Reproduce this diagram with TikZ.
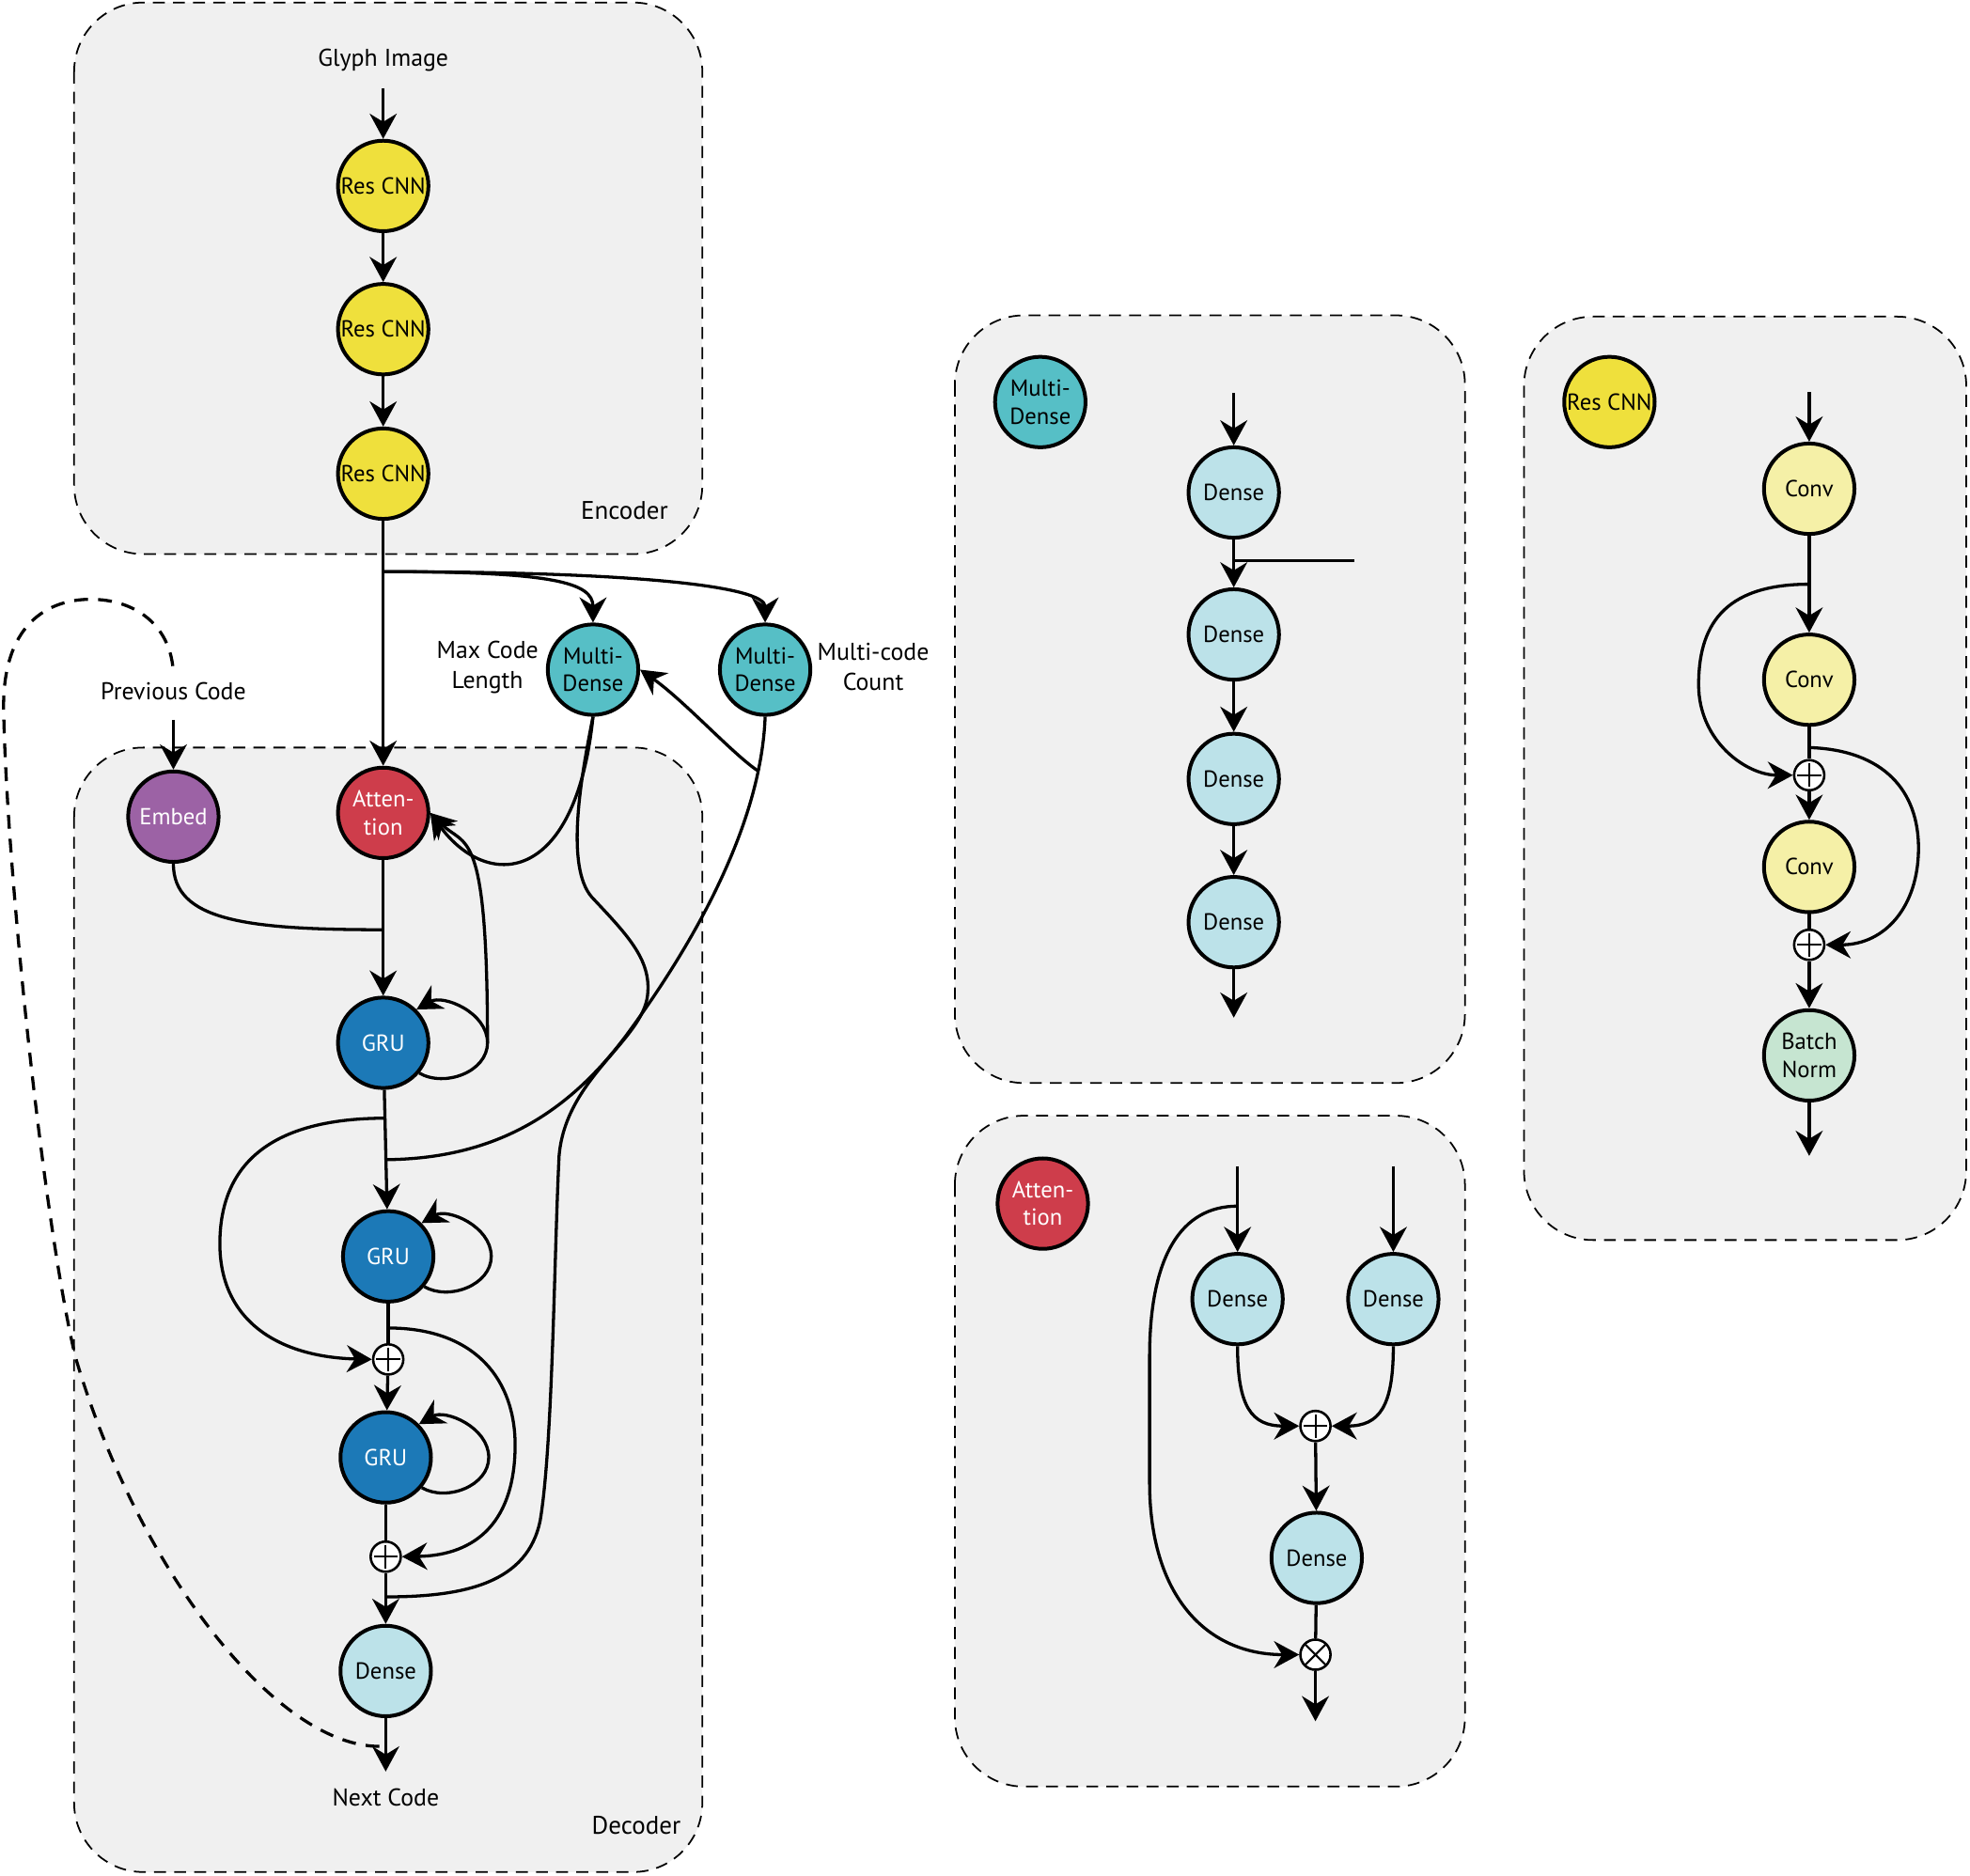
\documentclass[tikz,border=0pt]{standalone}
\usepackage{fontspec}
\setmainfont{PT Sans}
\usetikzlibrary{arrows.meta, positioning, calc}

\definecolor{boxgray}{HTML}{F0F0F0}
\definecolor{cnnyellow}{HTML}{EFE03C}
\definecolor{convyellow}{HTML}{F5F0A7}
\definecolor{mdteal}{HTML}{56BFC6}
\definecolor{attred}{HTML}{CE3D4B}
\definecolor{embpurple}{HTML}{9C62A5}
\definecolor{grublue}{HTML}{1C79B7}
\definecolor{denseblue}{HTML}{BCE2E9}
\definecolor{bngreen}{HTML}{C6E5D1}

\begin{document}
\begin{tikzpicture}[x=0.2mm, y=-0.2mm,
    >={Stealth[length=4mm, width=4.3mm, inset=1.3mm]},
    % group panels - dashed rounded boxes
    groupbox/.style={draw, fill=boxgray, line width=0.75pt, dash pattern={on 1.9mm off 1.3mm}, rounded corners=11mm},
    % layer circles - one style per kind
    layer/.style={circle, draw, line width=1.7pt, minimum size=14.4mm, inner sep=0pt, align=center,
        font=\fontsize{10.5}{12.5}\selectfont},
    rescnn/.style={layer, fill=cnnyellow},
    conv/.style={layer, fill=convyellow},
    mdense/.style={layer, fill=mdteal},
    attn/.style={layer, fill=attred, text=white},
    embed/.style={layer, fill=embpurple, text=white},
    gru/.style={layer, fill=grublue, text=white},
    dense/.style={layer, fill=denseblue},
    bnorm/.style={layer, fill=bngreen},
    % sum and product operators
    sumop/.style={circle, draw, fill=white, line width=1.1pt, minimum size=4.8mm, inner sep=0pt,
        path picture={\draw[line width=0.9pt]
            ([yshift=-0.5mm]path picture bounding box.north) -- ([yshift=0.5mm]path picture bounding box.south)
            ([xshift=0.5mm]path picture bounding box.west) -- ([xshift=-0.5mm]path picture bounding box.east);}},
    prodop/.style={circle, draw, fill=white, line width=1.1pt, minimum size=4.8mm, inner sep=0pt,
        path picture={\draw[line width=0.9pt]
            (path picture bounding box.north west) -- (path picture bounding box.south east)
            (path picture bounding box.south west) -- (path picture bounding box.north east);}},
    % text labels
    lbl/.style={font=\fontsize{11}{13.5}\selectfont, align=center},
    boxlbl/.style={font=\fontsize{11.5}{13.5}\selectfont, anchor=east},
    % connectors
    link/.style={line width=1.4pt},
    fblink/.style={line width=1.4pt, dash pattern={on 2.2mm off 1.6mm}}
]
    \useasboundingbox (0,0) rectangle (1568,1492.5);

    % panels
    \draw[groupbox] (59,2) rectangle (559,441);
    \draw[groupbox] (59,595) rectangle (559,1490);
    \draw[groupbox] (760,251) rectangle (1166,862);
    \draw[groupbox] (760,888) rectangle (1166,1422);
    \draw[groupbox] (1213,252) rectangle (1565,987);
    \node[boxlbl] (enclbl) at (538,406) {Encoder};
    \node[boxlbl] (declbl) at (548,1453) {Decoder};

    % Encoder
    \node[lbl] (glyph) at (305,48) {Glyph Image};
    \coordinate (glyphin) at (305,70);
    \node[rescnn] (cnn1) at (305,148) {Res CNN};
    \node[rescnn] (cnn2) at (305,262) {Res CNN};
    \node[rescnn] (cnn3) at (305,377) {Res CNN};
    \draw[link,->] (glyphin) -- (cnn1);
    \draw[link,->] (cnn1) -- (cnn2);
    \draw[link,->] (cnn2) -- (cnn3);

    % Multi-Dense heads
    \node[mdense] (md1) at (472,533) {Multi-\\Dense};
    \node[mdense] (md2) at (609,533) {Multi-\\Dense};
    \node[lbl] (md1lbl) at (388,531) {Max Code\\Length};
    \node[lbl] (md2lbl) at (695,531) {Multi-code\\Count};

    % Decoder
    \node[lbl] (prev) at (138,550) {Previous Code};
    \coordinate (previn) at (138,573);
    \node[embed] (emb) at (138,650) {Embed};
    \node[attn] (att) at (305,647) {Atten-\\tion};
    \node[gru] (gru1) at (305,830) {GRU};
    \node[gru] (gru2) at (309,1000) {GRU};
    \node[sumop] (plus1) at (309,1082) {};
    \node[gru] (gru3) at (307,1160) {GRU};
    \node[sumop] (plus2) at (307,1239) {};
    \node[dense] (dout) at (307,1330) {Dense};
    \coordinate (nextout) at (307,1410);
    \node[lbl] (next) at (307,1431) {Next Code};

    % junctions on the main line
    \coordinate (encsplit) at (305,455);
    \coordinate (embjoin) at (305,740);
    \coordinate (loop1) at (388,830);
    \coordinate (gsplit1) at (307,890);
    \coordinate (mergeA) at (308,923);
    \coordinate (gsplit2) at (309,1057);
    \coordinate (mergeB) at (307,1271);
    \coordinate (md2split) at (604,614);
    \coordinate (fbstart) at (302,1390);

    % main line
    \draw[link,->] (previn) -- (emb);
    \draw[link,->] (cnn3) -- (att);
    \draw[link,->] (att) -- (gru1);
    \draw[link,->] (gru1) -- (gru2);
    \draw[link] (gru2) -- (plus1);
    \draw[link,->] (plus1) -- (gru3);
    \draw[link] (gru3) -- (plus2);
    \draw[link,->] (plus2) -- (dout);
    \draw[link,->] (dout) -- (nextout);

    % encoder output to the heads
    \draw[link,->] (encsplit) .. controls +(135,0) and +(0,-32) .. (md1.north);
    \draw[link,->] (encsplit) .. controls +(210,0) and +(0,-28) .. (md2.north);

    % embedding joins the attention output
    \draw[link] (emb.south) .. controls +(0,45) and +(-110,0) .. (embjoin);

    % recurrent loops
    \draw[link,->] (gru1.-40) to[out=-30,in=-90] (loop1) to[out=90,in=30] (gru1.45);
    \draw[link,->] (gru2.-40) to[out=-30,in=-90] ($(gru2)+(82,0)$) to[out=90,in=30] (gru2.45);
    \draw[link,->] (gru3.-40) to[out=-30,in=-90] ($(gru3)+(82,0)$) to[out=90,in=30] (gru3.45);

    % inputs to attention
    \draw[link,->] (loop1) .. controls +(0,-175) and +(28,28) .. (att.east);
    \draw[link,->] (md1.south) .. controls +(-14,135) and +(45,62) .. (att.east);

    % head outputs
    \draw[link,->] (md2split) .. controls (585,602) and (545,558) .. (md1.east);
    \draw[link] (md2.south) .. controls (606,650) and (560,740) .. (500,822)
        .. controls (450,890) and (390,922) .. (mergeA);
    \draw[link] (md1.south) .. controls (462,620) and (450,690) .. (471,714)
        .. controls (500,745) and (520,765) .. (515,795)
        .. controls (508,830) and (450,860) .. (445,920)
        .. controls (441,1000) and (440,1150) .. (430,1210)
        .. controls (420,1260) and (370,1271) .. (mergeB);

    % residual skips
    \draw[link,->] (gsplit1) .. controls (200,890) and (175,940) .. (175,990)
        .. controls (175,1050) and (220,1080) .. (plus1.west);
    \draw[link,->] (gsplit2) .. controls (380,1057) and (410,1100) .. (410,1150)
        .. controls (410,1210) and (380,1238) .. (plus2.east);

    % feedback of the next code
    \draw[fblink] (fbstart) .. controls (220,1390) and (110,1250) .. (60,1080)
        .. controls (35,975) and (6,700) .. (3,570)
        .. controls (0,495) and (40,477) .. (72,477)
        .. controls (110,477) and (137,500) .. (prev.north);

    % Multi-Dense panel
    \node[mdense] (mdkey) at (828,320) {Multi-\\Dense};
    \coordinate (mdin) at (982,313);
    \node[dense] (mdd1) at (982,392) {Dense};
    \node[dense] (mdd2) at (982,505) {Dense};
    \node[dense] (mdd3) at (982,620) {Dense};
    \node[dense] (mdd4) at (982,734) {Dense};
    \coordinate (mdout) at (982,810);
    \coordinate (mdsplit) at (982,446);
    \coordinate (mdtap) at (1078,446);
    \draw[link,->] (mdin) -- (mdd1);
    \draw[link,->] (mdd1) -- (mdd2);
    \draw[link,->] (mdd2) -- (mdd3);
    \draw[link,->] (mdd3) -- (mdd4);
    \draw[link,->] (mdd4) -- (mdout);
    \draw[link] (mdsplit) -- (mdtap);

    % Attention panel
    \node[attn] (attkey) at (830,958) {Atten-\\tion};
    \coordinate (atqin) at (985,928);
    \coordinate (atkin) at (1109,928);
    \coordinate (atsplit) at (985,960);
    \node[dense] (atq) at (985,1034) {Dense};
    \node[dense] (atk) at (1109,1034) {Dense};
    \node[sumop] (atsum) at (1047,1135) {};
    \node[dense] (atd) at (1048,1240) {Dense};
    \node[prodop] (atprod) at (1047,1317) {};
    \coordinate (atout) at (1047,1370);
    \draw[link,->] (atqin) -- (atq);
    \draw[link,->] (atkin) -- (atk);
    \draw[link,->] (atq.south) .. controls +(0,48) and +(-38,0) .. (atsum.west);
    \draw[link,->] (atk.south) .. controls +(0,48) and +(38,0) .. (atsum.east);
    \draw[link,->] (atsum) -- (atd);
    \draw[link] (atd) -- (atprod);
    \draw[link,->] (atprod) -- (atout);
    \draw[link,->] (atsplit) .. controls (940,960) and (915,1000) .. (915,1080)
        -- (915,1180) .. controls (915,1270) and (960,1317) .. (atprod.west);

    % Res CNN panel
    \node[rescnn] (cnnkey) at (1281,320) {Res CNN};
    \coordinate (cin) at (1440,312);
    \node[conv] (conv1) at (1440,389) {Conv};
    \node[conv] (conv2) at (1440,541) {Conv};
    \node[sumop] (csum1) at (1440,617) {};
    \node[conv] (conv3) at (1440,690) {Conv};
    \node[sumop] (csum2) at (1440,752) {};
    \node[bnorm] (bn) at (1440,840) {Batch\\Norm};
    \coordinate (cout) at (1440,920);
    \coordinate (csplit1) at (1440,465);
    \coordinate (csplit2) at (1440,595);
    \draw[link,->] (cin) -- (conv1);
    \draw[link,->] (conv1) -- (conv2);
    \draw[link] (conv2) -- (csum1);
    \draw[link,->] (csum1) -- (conv3);
    \draw[link] (conv3) -- (csum2);
    \draw[link,->] (csum2) -- (bn);
    \draw[link,->] (bn) -- (cout);
    \draw[link,->] (csplit1) .. controls (1370,465) and (1352,500) .. (1352,545)
        .. controls (1352,590) and (1390,617) .. (csum1.west);
    \draw[link,->] (csplit2) .. controls (1500,597) and (1527,630) .. (1527,675)
        .. controls (1527,722) and (1500,752) .. (csum2.east);
\end{tikzpicture}
\end{document}
